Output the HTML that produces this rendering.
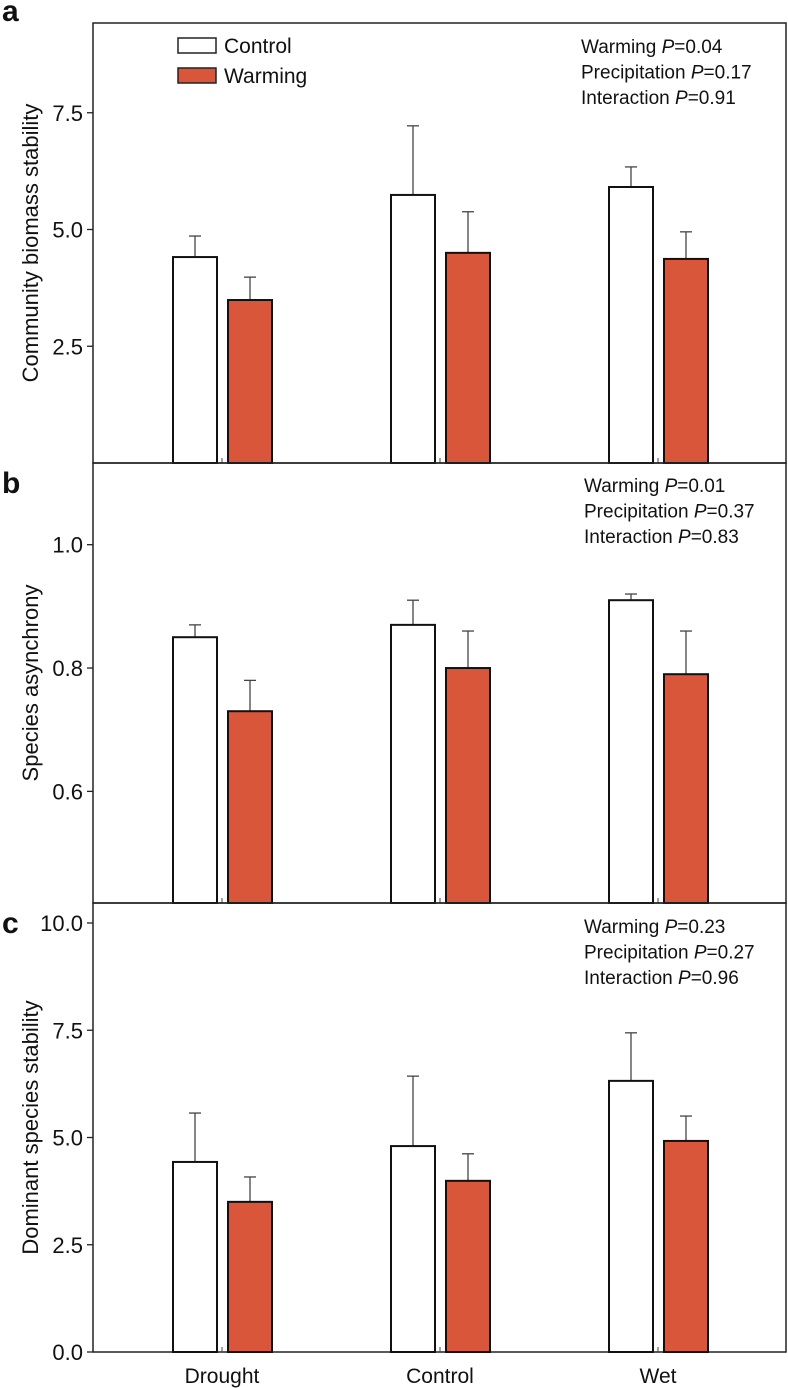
<!DOCTYPE html>
<html><head><meta charset="utf-8"><style>
html,body{margin:0;padding:0;background:#fff}
svg{display:block;font-family:"Liberation Sans",Arial,sans-serif}
</style></head><body>
<svg id="chart" width="788" height="1388" viewBox="0 0 788 1388" xmlns="http://www.w3.org/2000/svg"></svg>
<script>
const categories = ["Drought", "Control", "Wet"];
const aControl = [4.41, 5.74, 5.91];
const aControlErr = [4.86, 7.22, 6.34];
const aWarming = [3.49, 4.50, 4.37];
const aWarmingErr = [3.98, 5.38, 4.95];
const aTicks = [2.5, 5.0, 7.5];
const aTickLabels = ["2.5", "5.0", "7.5"];
const aStats = ["Warming |0.04", "Precipitation |0.17", "Interaction |0.91"];

const bControl = [0.85, 0.87, 0.91];
const bControlErr = [0.87, 0.91, 0.92];
const bWarming = [0.73, 0.80, 0.79];
const bWarmingErr = [0.78, 0.86, 0.86];
const bTicks = [0.6, 0.8, 1.0];
const bTickLabels = ["0.6", "0.8", "1.0"];
const bStats = ["Warming |0.01", "Precipitation |0.37", "Interaction |0.83"];

const cControl = [4.43, 4.80, 6.32];
const cControlErr = [5.57, 6.43, 7.44];
const cWarming = [3.50, 3.99, 4.92];
const cWarmingErr = [4.08, 4.62, 5.50];
const cTicks = [0.0, 2.5, 5.0, 7.5, 10.0];
const cTickLabels = ["0.0", "2.5", "5.0", "7.5", "10.0"];
const cStats = ["Warming |0.23", "Precipitation |0.27", "Interaction |0.96"];

const NS = "http://www.w3.org/2000/svg";
const svg = document.getElementById("chart");
const X0 = 93, X1 = 786;
const groupCenter = [222, 440, 658];
function xBand(i, s) { return groupCenter[i] + (s === 0 ? -49 : 6); }
const BW = 44;

function mk(tag, attrs, parent) {
  const e = document.createElementNS(NS, tag);
  for (const k in attrs) e.setAttribute(k, attrs[k]);
  (parent || svg).appendChild(e);
  return e;
}

function panel(cfg) {
  const g = mk("g", {});
  
  
  const y = v => cfg.yBase - (v - cfg.vMin) * cfg.ppu;
  const fr = mk("rect", {x: X0, y: cfg.top, width: X1 - X0, height: cfg.yBase - cfg.top, fill: "none", stroke: "#222", "stroke-width": 1.5}, g);
  
  
  const pl = mk("text", {x: 2, y: cfg.top - 2 + (cfg.letterDy || 0), "font-size": 30, "font-weight": "bold", fill: "#111"}, g);
  pl.textContent = cfg.letter;
  
  
  cfg.ticks.forEach((t, i) => {
    const yy = y(t);
    const tk = mk("line", {x1: X0 - 6, x2: X0, y1: yy, y2: yy, stroke: "#222", "stroke-width": 1.3}, g);
    
    
    const tl = mk("text", {x: X0 - 10, y: yy + 8, "font-size": 22, "text-anchor": "end", fill: "#111"}, g);
    tl.textContent = cfg.tickLabels[i];
    
    
  });
  const cy = (cfg.top + cfg.yBase) / 2;
  const yt = mk("text", {x: 0, y: 0, transform: `translate(38,${cy}) rotate(-90)`, "font-size": 22, "text-anchor": "middle", fill: "#111"}, g);
  yt.textContent = cfg.title;
  
  
  groupCenter.forEach(cx => {
    const xt = mk("line", {x1: cx, x2: cx, y1: cfg.yBase, y2: cfg.yBase - 5, stroke: "#444", "stroke-width": 1}, g);
    
    
  });
  const series = [[cfg.ctl, cfg.ctlErr, "#ffffff", "control"], [cfg.wrm, cfg.wrmErr, "#d9563b", "warming"]];
  categories.forEach((cat, i) => {
    series.forEach((s, si) => {
      const bx = xBand(i, si);
      const top = y(s[0][i]);
      const et = y(s[1][i]);
      const cxm = bx + BW / 2;
      const el = mk("line", {x1: cxm, x2: cxm, y1: top, y2: et, stroke: "#444", "stroke-width": 1.3}, g);
      
      
      const cp = mk("line", {x1: cxm - 6, x2: cxm + 6, y1: et, y2: et, stroke: "#444", "stroke-width": 1.3}, g);
      
      
      const r = mk("rect", {x: bx, y: top, width: BW, height: cfg.yBase - top, fill: s[2], stroke: "#111", "stroke-width": 2}, g);
      
      
    });
  });
  cfg.stats.forEach((st, i) => {
    const [lab, val] = st.split("|");
    const t = mk("text", {x: cfg.statX, y: cfg.statY + i * 25.5, "font-size": 19, fill: "#111"}, g);
    
    
    const t1 = mk("tspan", {}, t); t1.textContent = lab;
    const t2 = mk("tspan", {"font-style": "italic"}, t); t2.textContent = "P";
    const t3 = mk("tspan", {}, t); t3.textContent = "=" + val;
  });
}

panel({name: "panel-a", letter: "a", top: 23, yBase: 463, vMin: 0, ppu: 46.7,
  ticks: aTicks, tickLabels: aTickLabels, title: "Community biomass stability",
  ctl: aControl, ctlErr: aControlErr, wrm: aWarming, wrmErr: aWarmingErr,
  stats: aStats, statX: 581, statY: 53, letterDy: 0});
panel({name: "panel-b", letter: "b", top: 463, yBase: 903, vMin: 0.419, ppu: 616.7,
  ticks: bTicks, tickLabels: bTickLabels, title: "Species asynchrony",
  ctl: bControl, ctlErr: bControlErr, wrm: bWarming, wrmErr: bWarmingErr,
  stats: bStats, statX: 584, statY: 492, letterDy: 32});
panel({name: "panel-c", letter: "c", top: 903, yBase: 1352, vMin: 0, ppu: 42.9,
  ticks: cTicks, tickLabels: cTickLabels, title: "Dominant species stability",
  ctl: cControl, ctlErr: cControlErr, wrm: cWarming, wrmErr: cWarmingErr,
  stats: cStats, statX: 584, statY: 933, letterDy: 32});

const lg = mk("g", {});


[["Control", "#ffffff", 38], ["Warming", "#d9563b", 68]].forEach(([n, c, yy]) => {
  const r = mk("rect", {x: 178, y: yy, width: 38, height: 15, fill: c, stroke: "#222", "stroke-width": 1.5}, lg);
  
  
  const t = mk("text", {x: 224, y: yy + 15, "font-size": 21, fill: "#111"}, lg);
  t.textContent = n;
  
  
});
categories.forEach((c, i) => {
  const t = mk("text", {x: groupCenter[i], y: 1383, "font-size": 21, "text-anchor": "middle", fill: "#111"});
  t.textContent = c;
  
  
});
</script>
</body></html>
